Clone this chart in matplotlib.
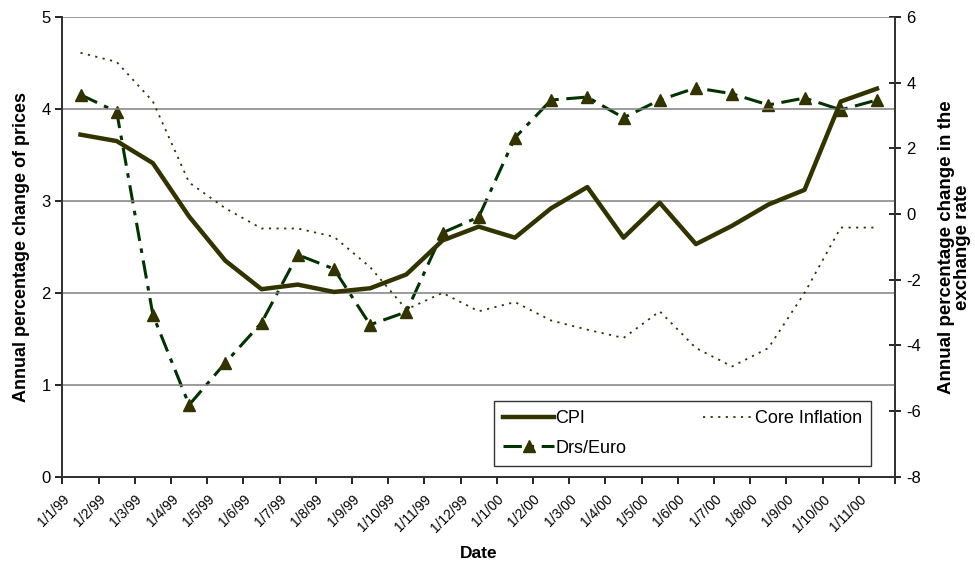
import numpy as np
import matplotlib.pyplot as plt
import matplotlib.transforms as mtransforms

plt.rcParams['font.family'] = ['Liberation Sans', 'DejaVu Sans']
plt.rcParams['axes.unicode_minus'] = False

dates = ['1/1/99', '1/2/99', '1/3/99', '1/4/99', '1/5/99', '1/6/99', '1/7/99',
         '1/8/99', '1/9/99', '1/10/99', '1/11/99', '1/12/99', '1/1/00', '1/2/00',
         '1/3/00', '1/4/00', '1/5/00', '1/6/00', '1/7/00', '1/8/00', '1/9/00',
         '1/10/00', '1/11/00']

cpi = [3.72, 3.65, 3.41, 2.83, 2.35, 2.04, 2.09, 2.01, 2.05, 2.20, 2.57, 2.72,
       2.60, 2.92, 3.15, 2.60, 2.98, 2.53, 2.73, 2.96, 3.12, 4.08, 4.22]
core = [4.61, 4.51, 4.08, 3.20, 2.92, 2.70, 2.70, 2.61, 2.28, 1.82, 2.00, 1.80,
        1.90, 1.70, 1.60, 1.51, 1.80, 1.40, 1.20, 1.40, 2.00, 2.71, 2.71]
drs_euro = [3.63, 3.11, -3.07, -5.81, -4.53, -3.31, -1.24, -1.67, -3.37, -2.98,
            -0.57, -0.09, 2.32, 3.47, 3.56, 2.93, 3.47, 3.84, 3.66, 3.32, 3.53,
            3.17, 3.47]

x = np.arange(len(dates)) + 0.5

fig = plt.figure(figsize=(9.75, 5.63), dpi=100)
ax = fig.add_axes([0.064, 0.153, 0.854, 0.817])
ax2 = ax.twinx()

olive = '#333300'
green = '#003300'

ax.set_xlim(0, len(dates))
ax.set_ylim(0, 5)
ax2.set_ylim(-8, 6)

for v in [1, 2, 3, 4, 5]:
    ax.axhline(v, color='#808080', lw=1.1, zorder=0)

l1, = ax.plot(x, cpi, color=olive, lw=3.2, label='CPI', zorder=3)
l3, = ax.plot(x, core, color=olive, lw=1.3, linestyle=(0, (1.2, 3)),
              label='Core Inflation', zorder=3)
l2, = ax2.plot(x, drs_euro, color=green, lw=2.2, linestyle=(0, (6, 2.5, 1.5, 2.5)),
               marker='^', markersize=8.5, markerfacecolor=olive,
               markeredgecolor=olive, label='Drs/Euro', zorder=3)

ax.set_xticks(np.arange(len(dates) + 1))
ax.set_xticklabels(dates + [''], rotation=45, ha='right', rotation_mode='anchor',
                   fontsize=10)
shift = mtransforms.ScaledTranslation(8 / 100, -2 / 100, fig.dpi_scale_trans)
for lab in ax.get_xticklabels():
    lab.set_transform(lab.get_transform() + shift)
ax.set_yticks(range(6))
ax2.set_yticks(range(-8, 7, 2))

ax.tick_params(axis='y', labelsize=12, direction='out', length=5, width=1.2)
ax.tick_params(axis='x', direction='out', length=5, width=1.2, pad=6)
ax2.tick_params(axis='y', labelsize=12, direction='inout', length=9, width=1.2)

for a in (ax, ax2):
    a.spines['top'].set_visible(False)
    for s in ('left', 'right', 'bottom'):
        a.spines[s].set_color('#333333')
        a.spines[s].set_linewidth(1.3)

ax.set_ylabel('Annual percentage change of prices', fontsize=13, fontweight='bold',
              labelpad=8)
ax2.set_ylabel('Annual percentage change in the\nexchange rate', fontsize=13.5,
               fontweight='bold', labelpad=12, linespacing=0.95)
fig.text(0.491, 10 / 563, 'Date', fontsize=12.5, fontweight='bold',
         ha='center', va='center')

leg = ax.legend([l1, l2, l3], ['CPI', 'Drs/Euro', 'Core Inflation'], ncol=2,
                loc='lower left', bbox_to_anchor=(0.5186, 0.024, 0.4526, 0.137),
                mode='expand', borderaxespad=0, fontsize=13, frameon=True,
                fancybox=False, edgecolor='black', handlelength=2.8,
                handletextpad=0.1, borderpad=0.5, labelspacing=0.7,
                columnspacing=1.5)
leg.get_frame().set_linewidth(1.0)
ax.set_zorder(ax2.get_zorder() + 1)
ax.patch.set_visible(False)
leg.set_zorder(10)

fig.savefig('out.png', dpi=100)
